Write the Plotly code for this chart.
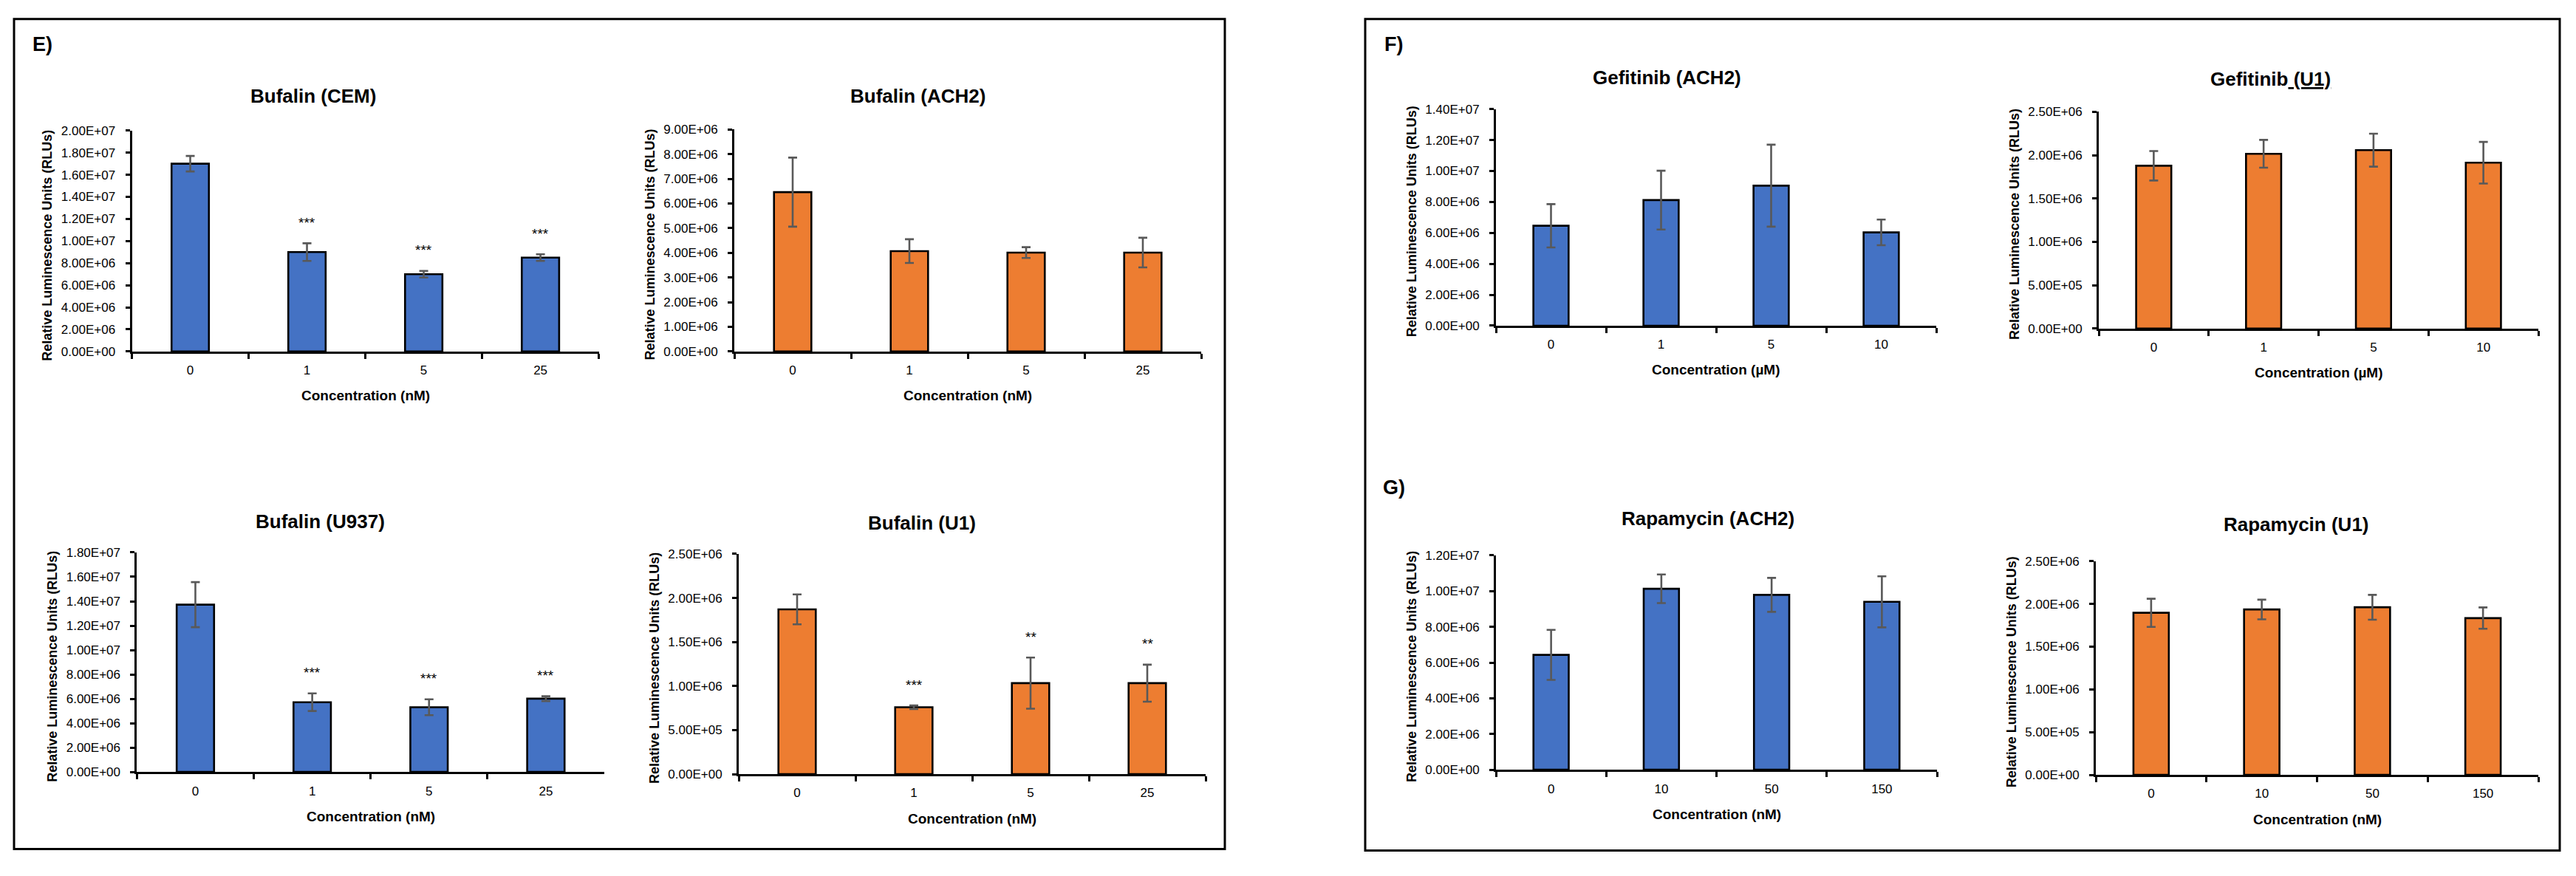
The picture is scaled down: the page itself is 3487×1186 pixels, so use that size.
import plotly.graph_objects as go

W, H = 3487, 1186
FONT = "Liberation Sans, Arial, sans-serif"
BLUE = "#4472C4"
ORANGE = "#ED7D31"

# ---------------- data ----------------
bufalin_cats = ["0", "1", "5", "25"]
gefitinib_cats = ["0", "1", "5", "10"]
rapamycin_cats = ["0", "10", "50", "150"]

cem_mean = [1.70e7, 9.0e6, 7.0e6, 8.5e6]
cem_err = [7.0e5, 8.0e5, 3.0e5, 3.0e5]
cem_sig = ["", "***", "***", "***"]

ach2_buf_mean = [6.46e6, 4.07e6, 4.01e6, 4.01e6]
ach2_buf_err = [1.40e6, 4.8e5, 2.2e5, 6.0e5]
ach2_buf_sig = ["", "", "", ""]

u937_mean = [1.372e7, 5.72e6, 5.31e6, 6.01e6]
u937_err = [1.85e6, 7.2e5, 6.5e5, 2.0e5]
u937_sig = ["", "***", "***", "***"]

u1_buf_mean = [1.871e6, 7.6e5, 1.033e6, 1.033e6]
u1_buf_err = [1.7e5, 2.0e4, 2.9e5, 2.1e5]
u1_buf_sig = ["", "***", "**", "**"]

ach2_gef_mean = [6.46e6, 8.12e6, 9.05e6, 6.03e6]
ach2_gef_err = [1.40e6, 1.90e6, 2.65e6, 8.3e5]

u1_gef_mean = [1.878e6, 2.016e6, 2.058e6, 1.913e6]
u1_gef_err = [1.7e5, 1.6e5, 1.9e5, 2.4e5]

ach2_rapa_mean = [6.43e6, 1.013e7, 9.79e6, 9.40e6]
ach2_rapa_err = [1.40e6, 8.0e5, 9.5e5, 1.43e6]

u1_rapa_mean = [1.896e6, 1.935e6, 1.961e6, 1.834e6]
u1_rapa_err = [1.65e5, 1.15e5, 1.45e5, 1.25e5]

# y-axis tick values (max, step)
ticks_cem = (2.0e7, 2.0e6)
ticks_ach2_buf = (9.0e6, 1.0e6)
ticks_u937 = (1.8e7, 2.0e6)
ticks_u1 = (2.5e6, 5.0e5)
ticks_ach2_gef = (1.4e7, 2.0e6)
ticks_ach2_rapa = (1.2e7, 2.0e6)

# ---------------- panels (layout in pixels) ----------------
panels = [
    dict(title="Bufalin (CEM)", cats=bufalin_cats, mean=cem_mean, err=cem_err, sig=cem_sig,
         ticks=ticks_cem, color=BLUE, unit="nM",
         x0=178.5, x1=810.6, ytop=170.5, yzero=474.5, tx=424, ty=123),
    dict(title="Bufalin (ACH2)", cats=bufalin_cats, mean=ach2_buf_mean, err=ach2_buf_err, sig=ach2_buf_sig,
         ticks=ticks_ach2_buf, color=ORANGE, unit="nM",
         x0=994, x1=1626, ytop=169, yzero=474.5, tx=1242, ty=123),
    dict(title="Bufalin (U937)", cats=bufalin_cats, mean=u937_mean, err=u937_err, sig=u937_sig,
         ticks=ticks_u937, color=BLUE, unit="nM",
         x0=185.4, x1=818, ytop=751, yzero=1053, tx=433, ty=708),
    dict(title="Bufalin (U1)", cats=bufalin_cats, mean=u1_buf_mean, err=u1_buf_err, sig=u1_buf_sig,
         ticks=ticks_u1, color=ORANGE, unit="nM",
         x0=1000, x1=1632, ytop=753, yzero=1056, tx=1248, ty=710),
    dict(title="Gefitinib (ACH2)", cats=gefitinib_cats, mean=ach2_gef_mean, err=ach2_gef_err, sig=None,
         ticks=ticks_ach2_gef, color=BLUE, unit="µM",
         x0=2025, x1=2621, ytop=141, yzero=439, tx=2256, ty=98),
    dict(title="Gefitinib<u> (U1)</u>", cats=gefitinib_cats, mean=u1_gef_mean, err=u1_gef_err, sig=None,
         ticks=ticks_u1, color=ORANGE, unit="µM",
         x0=2841, x1=3436, ytop=144.7, yzero=443, tx=3073, ty=100),
    dict(title="Rapamycin (ACH2)", cats=rapamycin_cats, mean=ach2_rapa_mean, err=ach2_rapa_err, sig=None,
         ticks=ticks_ach2_rapa, color=BLUE, unit="nM",
         x0=2025, x1=2622, ytop=755, yzero=1050, tx=2312, ty=704),
    dict(title="Rapamycin (U1)", cats=rapamycin_cats, mean=u1_rapa_mean, err=u1_rapa_err, sig=None,
         ticks=ticks_u1, color=ORANGE, unit="nM",
         x0=2837, x1=3436, ytop=763, yzero=1057, tx=3108, ty=712),
]


def px(x):
    return x / W


def py(y):
    return 1 - y / H


fig = go.Figure()
annotations = []
layout = {}

for i, p in enumerate(panels, start=1):
    xa = "x" if i == 1 else f"x{i}"
    ya = "y" if i == 1 else f"y{i}"
    xk = "xaxis" if i == 1 else f"xaxis{i}"
    yk = "yaxis" if i == 1 else f"yaxis{i}"
    ymax, step = p["ticks"]
    n = int(round(ymax / step))
    tvals = [k * step for k in range(n + 1)]
    ttext = [f"{v:.2E}" for v in tvals]
    ncat = len(p["cats"])

    fig.add_trace(go.Bar(
        x=p["cats"], y=p["mean"], xaxis=xa, yaxis=ya, showlegend=False,
        marker=dict(color=p["color"], line=dict(color="black", width=2.6)),
        error_y=dict(type="data", array=p["err"], visible=True,
                     color="#595959", thickness=2.6, width=6),
    ))

    layout[xk] = dict(
        domain=[px(p["x0"]), px(p["x1"])], anchor=ya, type="category",
        categoryorder="array", categoryarray=p["cats"], range=[-0.5, ncat - 0.5],
        showline=True, linecolor="black", linewidth=3,
        ticks="outside", tickson="boundaries", ticklen=7, tickwidth=2.5, tickcolor="black",
        tickfont=dict(family=FONT, size=17, color="black"), ticklabelstandoff=8,
        showgrid=False, zeroline=False, fixedrange=True,
    )
    layout[yk] = dict(
        domain=[py(p["yzero"]), py(p["ytop"])], anchor=xa, range=[0, ymax],
        tickvals=tvals, ticktext=ttext,
        showline=True, linecolor="black", linewidth=3,
        ticks="outside", ticklen=6, tickwidth=2.5, tickcolor="black",
        tickfont=dict(family=FONT, size=17, color="black"), ticklabelstandoff=10,
        showgrid=False, zeroline=False, fixedrange=True,
    )

    # chart title
    annotations.append(dict(
        text=f"<b>{p['title']}</b>", x=px(p["tx"]), y=py(p["ty"]), xref="paper", yref="paper",
        xanchor="center", yanchor="middle", showarrow=False,
        font=dict(family=FONT, size=26, color="black"),
    ))
    # y-axis title
    annotations.append(dict(
        text="<b>Relative Luminescence Units (RLUs)</b>", textangle=-90,
        x=px(p["x0"] - 114), y=py((p["ytop"] + p["yzero"]) / 2 + 6), xref="paper", yref="paper",
        xanchor="center", yanchor="middle", showarrow=False,
        font=dict(family=FONT, size=18, color="black"),
    ))
    # x-axis title
    annotations.append(dict(
        text=f"<b>Concentration ({p['unit']})</b>",
        x=px((p["x0"] + p["x1"]) / 2), y=py(p["yzero"] + 61), xref="paper", yref="paper",
        xanchor="center", yanchor="middle", showarrow=False,
        font=dict(family=FONT, size=19, color="black"),
    ))
    # significance marks (x given as category index)
    if p["sig"]:
        for k, (m, e, s) in enumerate(zip(p["mean"], p["err"], p["sig"])):
            if s:
                annotations.append(dict(
                    text=s, x=k, y=m + e, xref=xa, yref=ya, yshift=28,
                    xanchor="center", yanchor="middle", showarrow=False,
                    font=dict(family=FONT, size=19, color="black"),
                ))

# panel letters
for letter, lx, ly in [("E)", 57, 52), ("F)", 1887, 52), ("G)", 1887, 662)]:
    annotations.append(dict(
        text=f"<b>{letter}</b>", x=px(lx), y=py(ly), xref="paper", yref="paper",
        xanchor="center", yanchor="middle", showarrow=False,
        font=dict(family=FONT, size=27, color="black"),
    ))

shapes = [
    dict(type="rect", xref="paper", yref="paper", x0=px(19), x1=px(1658), y0=py(1159), y1=py(17),
         line=dict(color="black", width=3)),
    dict(type="rect", xref="paper", yref="paper", x0=px(1848), x1=px(3465), y0=py(1161), y1=py(17),
         line=dict(color="black", width=3)),
]

fig.update_layout(
    width=W, height=H, margin=dict(l=0, r=0, t=0, b=0),
    paper_bgcolor="white", plot_bgcolor="white",
    bargap=0.68, annotations=annotations, shapes=shapes,
    font=dict(family=FONT, color="black"),
    **layout,
)

fig.write_html(
    "out.html",
    config={"displayModeBar": False},
    post_script="document.body.style.margin='0';document.body.style.overflow='hidden';",
)
